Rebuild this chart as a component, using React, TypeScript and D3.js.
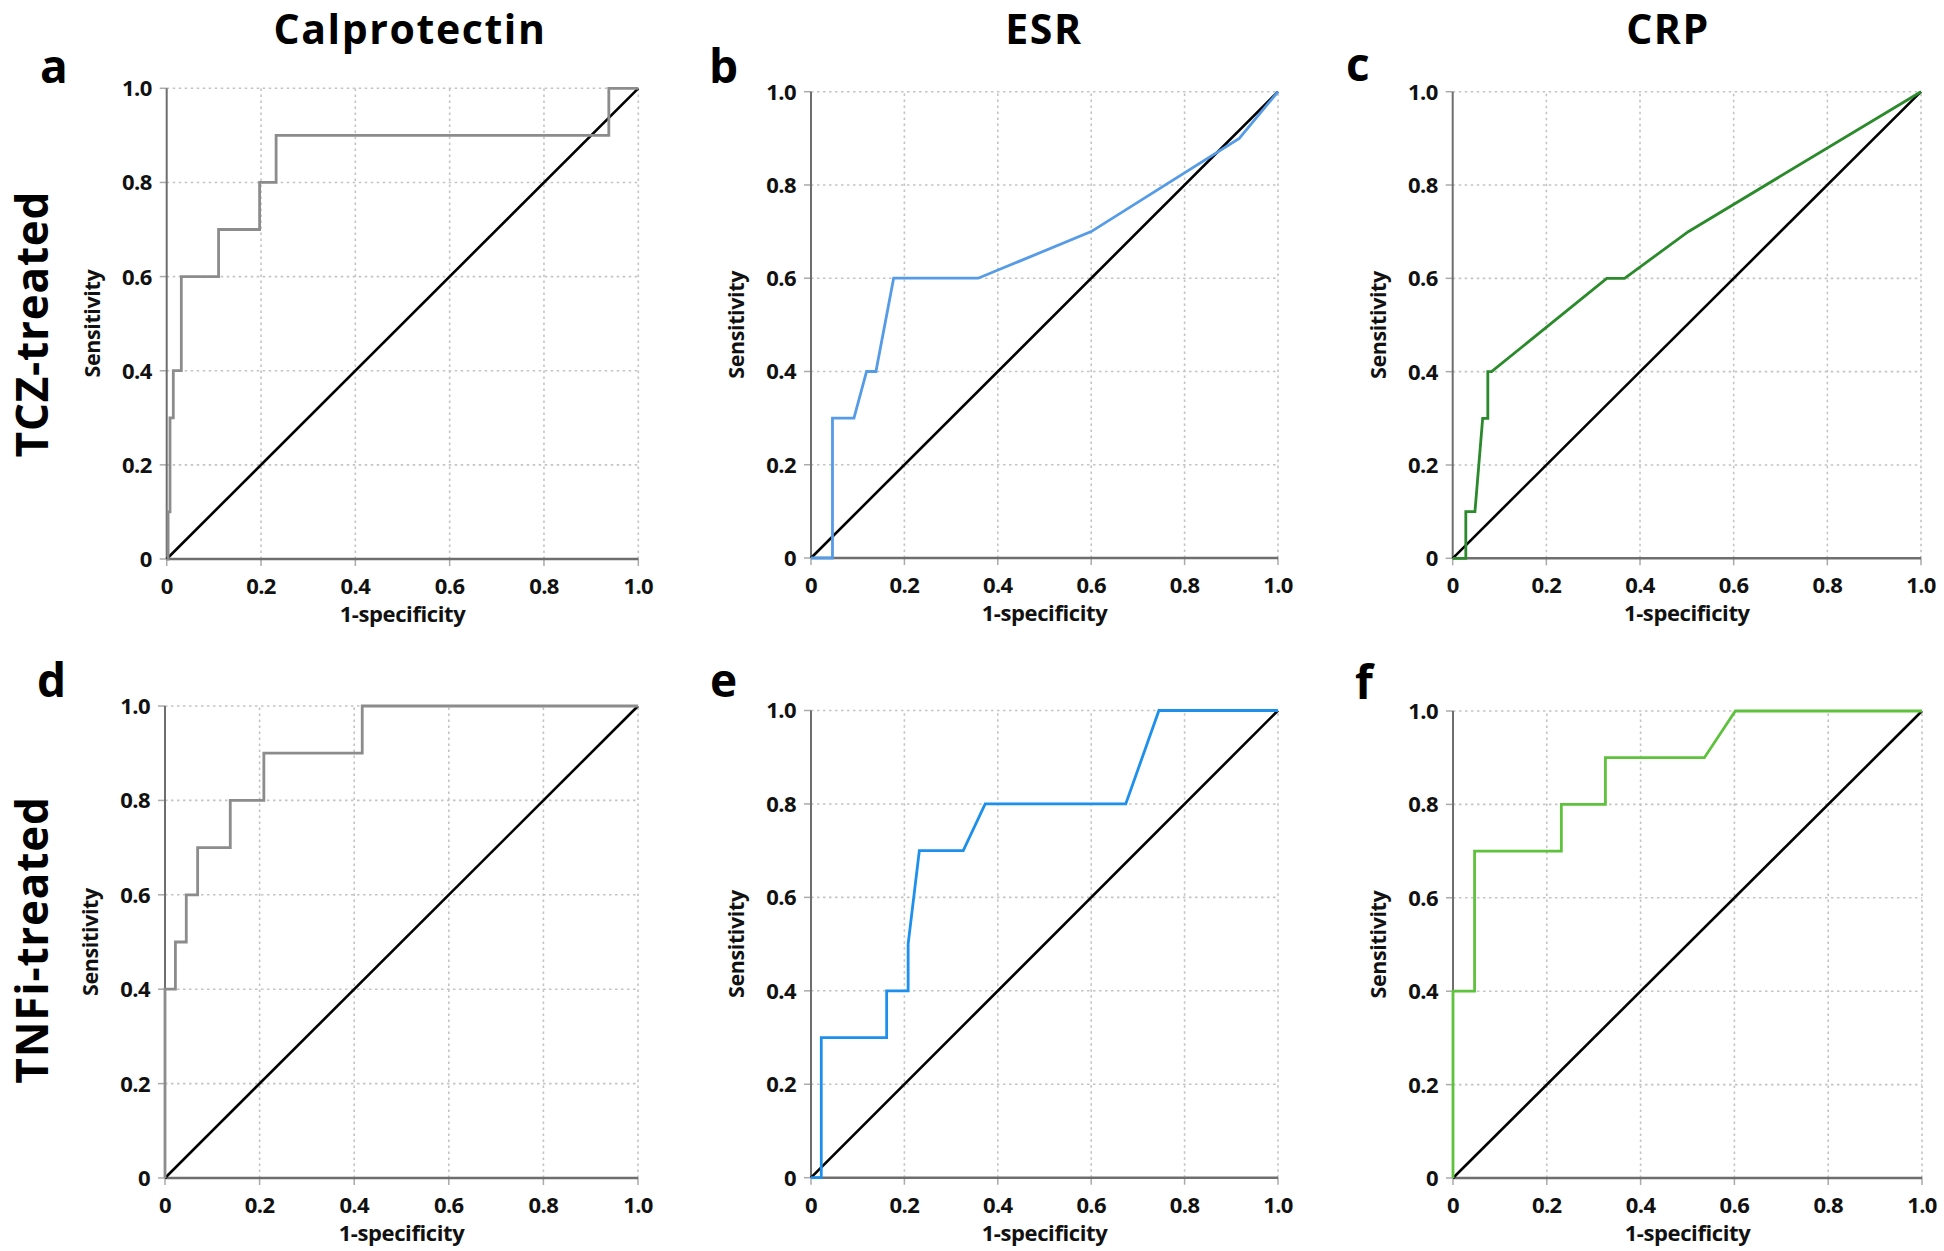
import React from "react";
import * as d3 from "d3";

// ---- data ----
const columnTitles = ["Calprotectin", "ESR", "CRP"];
const rowTitles = ["TCZ-treated", "TNFi-treated"];
const panelLetters = ["a", "b", "c", "d", "e", "f"];
const xTicks = [0, 0.2, 0.4, 0.6, 0.8, 1.0];
const yTicks = [0, 0.2, 0.4, 0.6, 0.8, 1.0];
const xAxisTitle = "1-specificity";
const yAxisTitle = "Sensitivity";

// a: Calprotectin, TCZ
const fprA = [0, 0.003, 0.003, 0.007, 0.007, 0.014, 0.014, 0.031, 0.031, 0.11, 0.11, 0.197, 0.197, 0.232, 0.232, 0.9375, 0.9375, 1];
const tprA = [0, 0, 0.1, 0.1, 0.3, 0.3, 0.4, 0.4, 0.6, 0.6, 0.7, 0.7, 0.8, 0.8, 0.9, 0.9, 1, 1];
// b: ESR, TCZ
const fprB = [0, 0.046, 0.046, 0.092, 0.119, 0.139, 0.177, 0.358, 0.6, 0.917, 1];
const tprB = [0, 0, 0.3, 0.3, 0.4, 0.4, 0.6, 0.6, 0.7, 0.9, 1];
// c: CRP, TCZ
const fprC = [0, 0.028, 0.028, 0.0475, 0.064, 0.075, 0.075, 0.083, 0.329, 0.367, 0.503, 1];
const tprC = [0, 0, 0.1, 0.1, 0.3, 0.3, 0.4, 0.4, 0.6, 0.6, 0.7, 1];
// d: Calprotectin, TNFi
const fprD = [0, 0, 0.022, 0.022, 0.045, 0.045, 0.069, 0.069, 0.138, 0.138, 0.209, 0.209, 0.417, 0.417, 1];
const tprD = [0, 0.4, 0.4, 0.5, 0.5, 0.6, 0.6, 0.7, 0.7, 0.8, 0.8, 0.9, 0.9, 1, 1];
// e: ESR, TNFi
const fprE = [0, 0.022, 0.022, 0.162, 0.162, 0.208, 0.208, 0.232, 0.326, 0.373, 0.674, 0.745, 1];
const tprE = [0, 0, 0.3, 0.3, 0.4, 0.4, 0.5, 0.7, 0.7, 0.8, 0.8, 1, 1];
// f: CRP, TNFi
const fprF = [0, 0, 0.046, 0.046, 0.231, 0.231, 0.325, 0.325, 0.536, 0.602, 1];
const tprF = [0, 0.4, 0.4, 0.7, 0.7, 0.8, 0.8, 0.9, 0.9, 1, 1];

const curves = [
  [fprA, tprA],
  [fprB, tprB],
  [fprC, tprC],
  [fprD, tprD],
  [fprE, tprE],
  [fprF, tprF],
];
const curveColors = ["#8c8c8c", "#559be6", "#2b8a2b", "#8c8c8c", "#1c90ec", "#5ec23c"];

// ---- layout ----
const W = 1944;
const H = 1251;
const FONT = "'Open Sans', 'Noto Sans', sans-serif";

const panelBoxes = [
  { x0: 166.7, x1: 638.3, yTop: 88.3, yBot: 559 },
  { x0: 811, x1: 1278, yTop: 91.7, yBot: 558 },
  { x0: 1452.7, x1: 1921, yTop: 91.7, yBot: 558.3 },
  { x0: 165, x1: 638, yTop: 706, yBot: 1178 },
  { x0: 811, x1: 1278, yTop: 710.5, yBot: 1177.7 },
  { x0: 1453, x1: 1922, yTop: 711, yBot: 1178 },
];
const letterPos = [
  [40, 83], [709, 83], [1346, 81],
  [37, 697], [710, 697], [1355, 699],
];

function fmt(v: number) {
  return v === 0 ? "0" : d3.format(".1f")(v);
}

function Panel({ idx }: { idx: number }) {
  const b = panelBoxes[idx];
  const x = d3.scaleLinear().domain([0, 1]).range([b.x0, b.x1]);
  const y = d3.scaleLinear().domain([0, 1]).range([b.yBot, b.yTop]);
  const [fx, ty] = curves[idx];
  const pts: [number, number][] = fx.map((v, i) => [v, ty[i]]);
  const line = d3
    .line<[number, number]>()
    .x((d) => x(d[0]))
    .y((d) => y(d[1]));
  const cx = (b.x0 + b.x1) / 2;
  const cy = (b.yTop + b.yBot) / 2;
  return (
    <g>
      {/* grid */}
      {xTicks.filter((t) => t > 0).map((t) => (
        <line key={"gx" + t} x1={x(t)} x2={x(t)} y1={y(0)} y2={y(1)}
          stroke="#c4c4c4" strokeWidth={1.6} strokeDasharray="2.5,3.5" />
      ))}
      {yTicks.filter((t) => t > 0).map((t) => (
        <line key={"gy" + t} x1={x(0)} x2={x(1)} y1={y(t)} y2={y(t)}
          stroke="#c4c4c4" strokeWidth={1.6} strokeDasharray="2.5,3.5" />
      ))}
      {/* ticks */}
      {yTicks.map((t) => (
        <line key={"ty" + t} x1={x(0) - 7} x2={x(0)} y1={y(t)} y2={y(t)} stroke="#aaaaaa" strokeWidth={1.5} />
      ))}
      {xTicks.map((t) => (
        <line key={"tx" + t} x1={x(t)} x2={x(t)} y1={y(0)} y2={y(0) + 7} stroke="#aaaaaa" strokeWidth={1.5} />
      ))}
      {/* axes */}
      <line x1={x(0)} x2={x(0)} y1={y(0)} y2={y(1)} stroke="#6e6e6e" strokeWidth={2} />
      <line x1={x(0)} x2={x(1)} y1={y(0)} y2={y(0)} stroke="#6e6e6e" strokeWidth={2.6} />
      {/* diagonal reference */}
      <path d={line([[0, 0], [1, 1]]) || ""} stroke="#000" strokeWidth={2.6} fill="none" />
      {/* ROC curve */}
      <path d={line(pts) || ""} stroke={curveColors[idx]} strokeWidth={2.8} fill="none" strokeLinejoin="miter" />
      {/* tick labels */}
      {yTicks.map((t) => (
        <text key={"ly" + t} x={x(0) - 15} y={y(t)} dy="0.36em" textAnchor="end"
          fontFamily={FONT} fontWeight={700} fontSize={22} letterSpacing={-0.6} fill="#111">{fmt(t)}</text>
      ))}
      {xTicks.map((t) => (
        <text key={"lx" + t} x={x(t)} y={y(0) + 35} textAnchor="middle"
          fontFamily={FONT} fontWeight={700} fontSize={22} letterSpacing={-0.6} fill="#111">{fmt(t)}</text>
      ))}
      {/* axis titles */}
      <text x={cx} y={y(0) + 63} textAnchor="middle" fontFamily={FONT} fontWeight={700} fontSize={22} fill="#111" letterSpacing={-0.4}>{xAxisTitle}</text>
      <text transform={`translate(${x(0) - 67},${cy}) rotate(-90)`} textAnchor="middle" fontFamily={FONT} fontWeight={700} fontSize={21.5} fill="#111" letterSpacing={-0.4}>{yAxisTitle}</text>
      {/* panel letter */}
      <text x={letterPos[idx][0]} y={letterPos[idx][1]} fontFamily={FONT} fontWeight={700} fontSize={46} fill="#000">{panelLetters[idx]}</text>
    </g>
  );
}

export default function App() {
  const colCenters = [410, 1044, 1668];
  const rowCenters = [324, 940];
  return (
    <svg width={W} height={H} style={{ position: "absolute", left: 0, top: 0, background: "#fff" }}>
      <rect width={W} height={H} fill="#fff" />
      {columnTitles.map((t, i) => (
        <text key={t} x={colCenters[i]} y={44} textAnchor="middle" fontFamily={FONT} fontWeight={700} fontSize={41} letterSpacing={1.6} fill="#000">{t}</text>
      ))}
      {rowTitles.map((t, i) => (
        <text key={t} transform={`translate(47.5,${rowCenters[i]}) rotate(-90)`} textAnchor="middle" fontFamily={FONT} fontWeight={700} fontSize={44} letterSpacing={0.8} fill="#000">{t}</text>
      ))}
      {panelBoxes.map((_, i) => (
        <Panel key={i} idx={i} />
      ))}
    </svg>
  );
}
